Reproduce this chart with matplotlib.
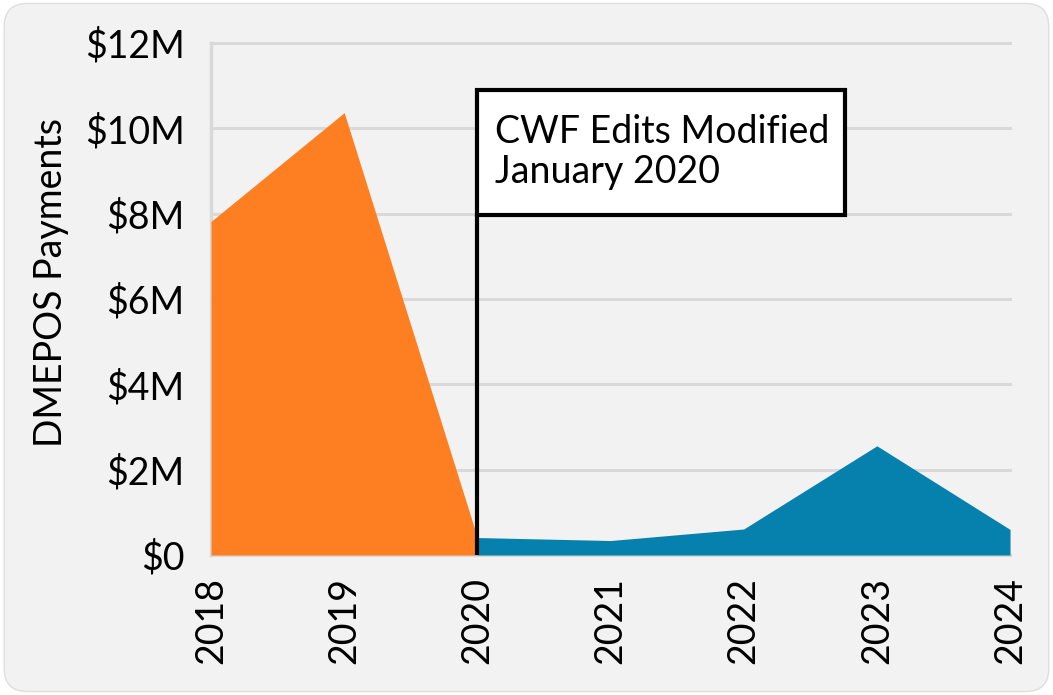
import matplotlib
matplotlib.use("Agg")
import matplotlib.pyplot as plt
from matplotlib.patches import FancyBboxPatch, Rectangle

plt.rcParams['font.family'] = ['Lato', 'DejaVu Sans']

years_before = [2018, 2019, 2020]
payments_before = [7.82, 10.37, 0.41]   # $M
years_after = [2020, 2021, 2022, 2023, 2024]
payments_after = [0.41, 0.34, 0.61, 2.56, 0.60]  # $M
y_ticks = [0, 2, 4, 6, 8, 10, 12]
y_tick_labels = ['$0', '$2M', '$4M', '$6M', '$8M', '$10M', '$12M']
x_ticks = [2018, 2019, 2020, 2021, 2022, 2023, 2024]
annotation_text = "CWF Edits Modified\nJanuary 2020"

ORANGE = '#fe7f22'
BLUE = '#0681ae'
BG = '#f2f2f2'
GRID = '#d9d9d9'
FS = 27

fig = plt.figure(figsize=(10.53, 6.95), dpi=100)
fig.patch.set_facecolor('white')
bg = FancyBboxPatch((0.004, 0.005), 0.992, 0.99, boxstyle="round,pad=0,rounding_size=0.022",
                    transform=fig.transFigure, facecolor=BG, edgecolor='#dedede', linewidth=1.0,
                    mutation_aspect=1053/695, zorder=-10)
fig.patches.append(bg)

ax = fig.add_axes([0.2004, 0.2014, 0.7588, 0.7366])
ax.set_zorder(5)
ax.set_facecolor('none')
ax.set_xlim(2018, 2024)
ax.set_ylim(0, 12)

for t in y_ticks:
    ax.axhline(t, color=GRID, linewidth=2.2, zorder=1, clip_on=False)

ax.fill_between(years_before, payments_before, 0, color=ORANGE, linewidth=0, zorder=2)
ax.fill_between(years_after, payments_after, 0, color=BLUE, linewidth=0, zorder=3)

for s in ['top', 'right', 'bottom']:
    ax.spines[s].set_visible(False)
ax.spines['left'].set_color(GRID)
ax.spines['left'].set_linewidth(2.5)
ax.spines['left'].set_zorder(1)

ax.set_yticks(y_ticks)
ax.set_yticklabels(y_tick_labels)
ax.set_xticks(x_ticks)
ax.set_xticklabels([str(x) for x in x_ticks], rotation=90)
ax.tick_params(axis='y', length=0, pad=19, labelsize=FS)
ax.tick_params(axis='x', length=0, pad=16, labelsize=FS)

# marker line and annotation box
ax.vlines(2020, 0, 8.0, color='black', linewidth=3, zorder=5)
box = Rectangle((2020, 7.97), 2.76, 2.93, facecolor='white', edgecolor='black',
                linewidth=3, zorder=6)
ax.add_patch(box)
ax.text(2020.13, 9.45, annotation_text, fontsize=FS, ha='left', va='center',
        linespacing=1.12, zorder=7)

fig.text(0.048, 0.593, 'DMEPOS Payments', rotation=90, fontsize=FS,
         ha='center', va='center')

fig.savefig('out.png', dpi=100, facecolor=fig.get_facecolor())
